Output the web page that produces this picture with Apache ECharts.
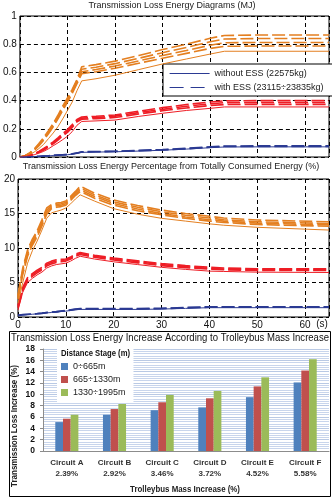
<!DOCTYPE html>
<html>
<head>
<meta charset="utf-8">
<script src="https://cdn.jsdelivr.net/npm/echarts@6/dist/echarts.min.js"></script>
<style>
  html, body { margin: 0; padding: 0; background: #fff; }
  #chart { width: 332px; height: 499px; }
</style>
</head>
<body>
<div id="chart"></div>
<script>
// ---- time axis (s), shared by the two line panels ----
const timeS = [0, 1, 2, 3, 4, 5, 6, 7, 8, 9, 10, 11, 12, 13, 16, 20, 25, 30, 35, 40, 43, 50, 65];

// ---- Transmission loss energy (MJ) ----
const mjBlueNoEss   = [0, 0.001, 0.002, 0.003, 0.004, 0.006, 0.008, 0.010, 0.012, 0.014, 0.016, 0.020, 0.026, 0.033, 0.035, 0.037, 0.042, 0.048, 0.056, 0.066, 0.071, 0.072, 0.072];
const mjBlueEss = [
  [0, 0.001, 0.002, 0.003, 0.004, 0.006, 0.008, 0.011, 0.013, 0.015, 0.017, 0.021, 0.027, 0.035, 0.037, 0.039, 0.044, 0.050, 0.058, 0.069, 0.074, 0.075, 0.075],
  [0, 0.001, 0.002, 0.003, 0.005, 0.007, 0.009, 0.012, 0.014, 0.016, 0.018, 0.023, 0.029, 0.037, 0.039, 0.041, 0.047, 0.053, 0.062, 0.073, 0.078, 0.079, 0.079]
];
const mjRedNoEss    = [0, 0.003, 0.008, 0.016, 0.027, 0.040, 0.058, 0.080, 0.100, 0.123, 0.147, 0.180, 0.225, 0.252, 0.256, 0.262, 0.288, 0.310, 0.330, 0.345, 0.355, 0.355, 0.355];
const mjRedEss = [
  [0, 0.004, 0.010, 0.020, 0.034, 0.050, 0.070, 0.094, 0.120, 0.150, 0.175, 0.210, 0.250, 0.268, 0.272, 0.280, 0.305, 0.328, 0.348, 0.365, 0.372, 0.373, 0.373],
  [0, 0.004, 0.011, 0.022, 0.037, 0.055, 0.076, 0.100, 0.128, 0.158, 0.185, 0.220, 0.258, 0.276, 0.280, 0.290, 0.315, 0.338, 0.360, 0.377, 0.385, 0.386, 0.386],
  [0, 0.005, 0.012, 0.024, 0.040, 0.060, 0.082, 0.108, 0.136, 0.166, 0.195, 0.230, 0.266, 0.284, 0.289, 0.298, 0.325, 0.350, 0.372, 0.390, 0.398, 0.400, 0.400]
];
const mjOrangeNoEss = [0, 0.005, 0.018, 0.035, 0.060, 0.090, 0.130, 0.170, 0.215, 0.270, 0.330, 0.390, 0.470, 0.540, 0.555, 0.580, 0.620, 0.660, 0.695, 0.730, 0.750, 0.750, 0.750];
const mjOrangeEss = [
  [0, 0.007, 0.022, 0.045, 0.080, 0.120, 0.165, 0.215, 0.270, 0.330, 0.390, 0.450, 0.520, 0.590, 0.605, 0.630, 0.665, 0.700, 0.735, 0.770, 0.785, 0.787, 0.787],
  [0, 0.007, 0.024, 0.048, 0.085, 0.126, 0.172, 0.222, 0.278, 0.340, 0.400, 0.460, 0.530, 0.605, 0.620, 0.645, 0.682, 0.720, 0.755, 0.793, 0.810, 0.812, 0.812],
  [0, 0.008, 0.026, 0.052, 0.090, 0.132, 0.180, 0.230, 0.287, 0.350, 0.410, 0.470, 0.540, 0.622, 0.637, 0.662, 0.700, 0.740, 0.777, 0.817, 0.837, 0.840, 0.840],
  [0, 0.008, 0.028, 0.056, 0.095, 0.138, 0.186, 0.238, 0.296, 0.360, 0.420, 0.480, 0.550, 0.640, 0.655, 0.680, 0.720, 0.762, 0.800, 0.842, 0.862, 0.865, 0.865]
];

// ---- Loss share of total consumed energy (%) ----
const pctBlueNoEss   = [0.20, 0.30, 0.35, 0.40, 0.45, 0.50, 0.60, 0.65, 0.70, 0.80, 0.85, 0.95, 1.05, 1.10, 1.10, 1.10, 1.10, 1.15, 1.25, 1.35, 1.35, 1.35, 1.35];
const pctBlueEss = [
  [0.22, 0.32, 0.37, 0.42, 0.48, 0.53, 0.63, 0.68, 0.74, 0.84, 0.90, 1.00, 1.10, 1.16, 1.16, 1.16, 1.16, 1.21, 1.31, 1.42, 1.42, 1.42, 1.42],
  [0.24, 0.34, 0.40, 0.45, 0.50, 0.56, 0.66, 0.72, 0.78, 0.88, 0.94, 1.05, 1.15, 1.22, 1.22, 1.22, 1.22, 1.27, 1.38, 1.49, 1.49, 1.49, 1.49]
];
const pctRedNoEss    = [1.0, 3.6, 5.0, 5.6, 6.1, 6.5, 7.1, 7.4, 7.6, 7.7, 7.8, 8.1, 8.5, 8.8, 8.4, 8.0, 7.6, 7.2, 6.9, 6.65, 6.6, 6.5, 6.45];
const pctRedEss = [
  [1.3, 3.9, 5.3, 5.9, 6.4, 6.8, 7.4, 7.7, 7.9, 8.0, 8.1, 8.4, 8.8, 9.05, 8.65, 8.25, 7.85, 7.45, 7.15, 6.95, 6.85, 6.75, 6.75],
  [1.5, 4.1, 5.5, 6.1, 6.6, 7.0, 7.6, 7.9, 8.1, 8.2, 8.25, 8.55, 8.95, 9.2, 8.8, 8.4, 8.0, 7.6, 7.3, 7.05, 6.95, 6.88, 6.87],
  [1.7, 4.3, 5.7, 6.3, 6.8, 7.2, 7.8, 8.1, 8.3, 8.35, 8.4, 8.7, 9.1, 9.35, 8.95, 8.55, 8.15, 7.75, 7.45, 7.2, 7.1, 7.0, 7.0]
];
const pctOrangeNoEss = [2.0, 5.0, 7.8, 9.6, 11.0, 12.6, 14.3, 15.1, 15.3, 15.5, 15.8, 16.4, 17.1, 17.7, 16.8, 15.7, 14.9, 14.3, 13.9, 13.5, 13.3, 13.0, 12.6];
const pctOrangeEss = [
  [2.6, 6.2, 8.8, 10.4, 11.6, 13.2, 14.9, 15.7, 15.9, 16.0, 16.2, 16.9, 17.6, 18.2, 17.2, 16.2, 15.4, 14.8, 14.3, 13.9, 13.7, 13.4, 13.15],
  [2.8, 6.5, 9.1, 10.7, 11.9, 13.5, 15.2, 15.9, 16.1, 16.2, 16.4, 17.1, 17.8, 18.45, 17.45, 16.45, 15.65, 15.0, 14.5, 14.1, 13.9, 13.6, 13.35],
  [3.0, 6.8, 9.4, 11.0, 12.2, 13.8, 15.5, 16.1, 16.3, 16.4, 16.6, 17.3, 18.0, 18.7, 17.7, 16.7, 15.9, 15.25, 14.75, 14.35, 14.1, 13.8, 13.55],
  [3.2, 7.1, 9.7, 11.3, 12.5, 14.1, 15.8, 16.3, 16.5, 16.6, 16.8, 17.5, 18.2, 18.95, 17.95, 16.95, 16.15, 15.5, 15.0, 14.6, 14.35, 14.05, 13.8]
];

// ---- Loss increase by circuit and distance stage (%) ----
const circuits = ['Circuit A', 'Circuit B', 'Circuit C', 'Circuit D', 'Circuit E', 'Circuit F'];
const massIncrease = ['2.39%', '2.92%', '3.46%', '3.72%', '4.52%', '5.58%'];
const stageNames = ['0÷665m', '665÷1330m', '1330÷1995m'];
const stage1 = [5.1, 6.4, 7.2, 7.7, 9.5, 12.1];
const stage2 = [5.7, 7.4, 8.6, 9.3, 11.4, 14.2];
const stage3 = [6.4, 8.3, 9.9, 10.6, 13.0, 16.2];

const NAME_NO_ESS = 'without ESS (22575kg)';
const NAME_ESS = 'with ESS (23115÷23835kg)';
const BLUE = '#2b3a93', RED = '#ee1d25', ORANGE = '#e47f20';
const ARIAL = "'Liberation Sans', Arial, sans-serif";

// horizontal squeeze factor so a label spans a given width (imitates a condensed face)
const measureCtx = document.createElement('canvas').getContext('2d');
function squeeze(text, font, width) {
  measureCtx.font = font;
  return width / measureCtx.measureText(text).width;
}

function lineSeries(name, gridIdx, values, color, dashed) {
  return {
    type: 'line', name: name,
    xAxisIndex: gridIdx, yAxisIndex: gridIdx,
    data: timeS.map((t, i) => [t, values[i]]),
    symbol: 'none', silent: true, animation: false,
    color: color,
    lineStyle: dashed ? { color: color, width: 1.6, type: [13, 4] } : { color: color, width: 1 },
    itemStyle: { color: color },
    z: dashed ? 3 : 4
  };
}

const series = [];
function addPanel(gridIdx, blue, blueEss, red, redEss, orange, orangeEss, tag) {
  orangeEss.forEach((v, k) => series.push(lineSeries('orange-ess-' + tag + k, gridIdx, v, ORANGE, true)));
  series.push(lineSeries('orange-' + tag, gridIdx, orange, ORANGE, false));
  redEss.forEach((v, k) => series.push(lineSeries('red-ess-' + tag + k, gridIdx, v, RED, true)));
  series.push(lineSeries('red-' + tag, gridIdx, red, RED, false));
  blueEss.forEach((v, k) => series.push(lineSeries(gridIdx === 0 ? NAME_ESS : 'blue-ess-' + tag + k, gridIdx, v, BLUE, true)));
  series.push(lineSeries(gridIdx === 0 ? NAME_NO_ESS : 'blue-' + tag, gridIdx, blue, BLUE, false));
}
addPanel(0, mjBlueNoEss, mjBlueEss, mjRedNoEss, mjRedEss, mjOrangeNoEss, mjOrangeEss, 'mj');
addPanel(1, pctBlueNoEss, pctBlueEss, pctRedNoEss, pctRedEss, pctOrangeNoEss, pctOrangeEss, 'pct');

const barColors = ['#4f81bd', '#c0504d', '#9bbb59'];
[stage1, stage2, stage3].forEach((vals, k) => {
  series.push({
    type: 'bar', name: stageNames[k],
    xAxisIndex: 2, yAxisIndex: 2,
    data: vals, barWidth: 7.7, barGap: '0%',
    itemStyle: { color: barColors[k] },
    animation: false
  });
});

const dashGrid = { show: true, lineStyle: { color: '#000', type: [4, 3], width: 1 } };
const timeAxis = (gridIdx, showLabels) => ({
  type: 'value', gridIndex: gridIdx, min: 0, max: 65, interval: 10,
  axisLine: { show: false }, axisTick: { show: false },
  axisLabel: { show: showLabels, showMaxLabel: false, fontSize: 10, color: '#111', fontFamily: ARIAL, margin: 3 },
  splitLine: dashGrid
});

const titleBar = 'Transmission Loss Energy Increase According to Trolleybus Mass Increase';
const titleBarFont = '11px ' + ARIAL;
const xNameBar = 'Trolleybus Mass Increase (%)';
const yNameBar = 'Transmission Loss Increase (%)';
const boldSmall = 'bold 9px ' + ARIAL;
const legendTitle = 'Distance Stage (m)';

const option = {
  backgroundColor: '#fff',
  animation: false,
  grid: [
    { left: 18, top: 16, width: 311, height: 141, show: true, borderColor: '#000', borderWidth: 1, backgroundColor: 'transparent' },
    { left: 18, top: 179, width: 311, height: 138, show: true, borderColor: '#000', borderWidth: 1, backgroundColor: 'transparent' },
    { left: 43, top: 349, width: 286, height: 102 }
  ],
  xAxis: [
    timeAxis(0, false),
    timeAxis(1, true),
    {
      type: 'category', gridIndex: 2,
      data: circuits.map((c, i) => c + '\n' + massIncrease[i]),
      axisLine: { lineStyle: { color: '#8c8c8c' } },
      axisTick: { show: false },
      axisLabel: { interval: 0, fontSize: 8, fontWeight: 'bold', color: '#333', fontFamily: ARIAL, lineHeight: 11, margin: 6 }
    }
  ],
  yAxis: [
    {
      type: 'value', gridIndex: 0, min: 0, max: 1, interval: 0.2,
      axisLine: { show: false }, axisTick: { show: false },
      axisLabel: { fontSize: 10, color: '#111', fontFamily: ARIAL, margin: 3 },
      splitLine: dashGrid
    },
    {
      type: 'value', gridIndex: 1, min: 0, max: 20, interval: 5,
      axisLine: { show: false }, axisTick: { show: false },
      axisLabel: { fontSize: 10, color: '#111', fontFamily: ARIAL, margin: 3 },
      splitLine: dashGrid
    },
    {
      type: 'value', gridIndex: 2, min: 0, max: 18, interval: 2,
      axisLine: { show: true, lineStyle: { color: '#8c8c8c' } },
      axisTick: { show: true, inside: false, length: 3, lineStyle: { color: '#8c8c8c' } },
      axisLabel: { fontSize: 8.5, fontWeight: 'bold', color: '#111', fontFamily: ARIAL, margin: 8 },
      splitLine: { show: true, lineStyle: { color: '#b9c9e4', width: 1 } },
      minorTick: { show: false, splitNumber: 5 },
      minorSplitLine: { show: true, lineStyle: { color: '#c8d5ec', width: 1 } }
    }
  ],
  legend: [
    {
      left: 163, top: 64, orient: 'vertical',
      backgroundColor: '#fff', borderColor: '#000', borderWidth: 1,
      padding: [5, 14, 4, 6], itemGap: 5, itemWidth: 40, itemHeight: 10,
      textStyle: { fontSize: 9, color: '#222', fontFamily: ARIAL },
      // keep the line glyph only, no marker in its middle
      itemStyle: { opacity: 0 },
      data: [
        { name: NAME_NO_ESS, lineStyle: { color: BLUE, width: 1 } },
        { name: NAME_ESS, lineStyle: { color: BLUE, type: [14, 7], width: 1.2 } }
      ],
      selectedMode: false
    },
    {
      left: 57, top: 346, orient: 'vertical',
      backgroundColor: '#fff',
      padding: [16, 8, 5, 4], itemGap: 4, itemWidth: 7, itemHeight: 7, icon: 'rect',
      textStyle: { fontSize: 9, color: '#222', fontFamily: ARIAL },
      data: stageNames,
      selectedMode: false
    }
  ],
  graphic: [
    { type: 'text', x: 172, y: 6, z: 100, style: { text: 'Transmission Loss Energy Diagrams (MJ)', font: '9px ' + ARIAL, fill: '#222', textAlign: 'center', textVerticalAlign: 'middle' } },
    { type: 'text', x: 171, y: 167, z: 100, style: { text: 'Transmission Loss Energy Percentage from Totally Consumed Energy (%)', font: '9px ' + ARIAL, fill: '#222', textAlign: 'center', textVerticalAlign: 'middle' } },
    { type: 'text', x: 322, y: 324, z: 100, style: { text: '(s)', font: '10px ' + ARIAL, fill: '#111', textAlign: 'center', textVerticalAlign: 'middle' } },
    { type: 'rect', z: 100, shape: { x: 9.5, y: 331.5, width: 321, height: 165 }, style: { fill: 'none', stroke: '#000', lineWidth: 1 } },
    { type: 'text', x: 170, y: 338, z: 100, scaleX: squeeze(titleBar, titleBarFont, 318), style: { text: titleBar, font: titleBarFont, fill: '#111', textAlign: 'center', textVerticalAlign: 'middle' } },
    { type: 'text', x: 61, y: 354, z: 100, scaleX: squeeze(legendTitle, boldSmall, 69), style: { text: legendTitle, font: boldSmall, fill: '#111', textAlign: 'left', textVerticalAlign: 'middle' } },
    { type: 'text', x: 185, y: 490, z: 100, scaleX: squeeze(xNameBar, boldSmall, 110), style: { text: xNameBar, font: boldSmall, fill: '#222', textAlign: 'center', textVerticalAlign: 'middle' } },
    { type: 'text', x: 15, y: 426, z: 100, rotation: Math.PI / 2, scaleX: squeeze(yNameBar, boldSmall, 122), style: { text: yNameBar, font: boldSmall, fill: '#222', textAlign: 'center', textVerticalAlign: 'middle' } }
  ],
  series: series
};

const chart = echarts.init(document.getElementById('chart'), null, { renderer: 'canvas' });
chart.setOption(option);
</script>
</body>
</html>
